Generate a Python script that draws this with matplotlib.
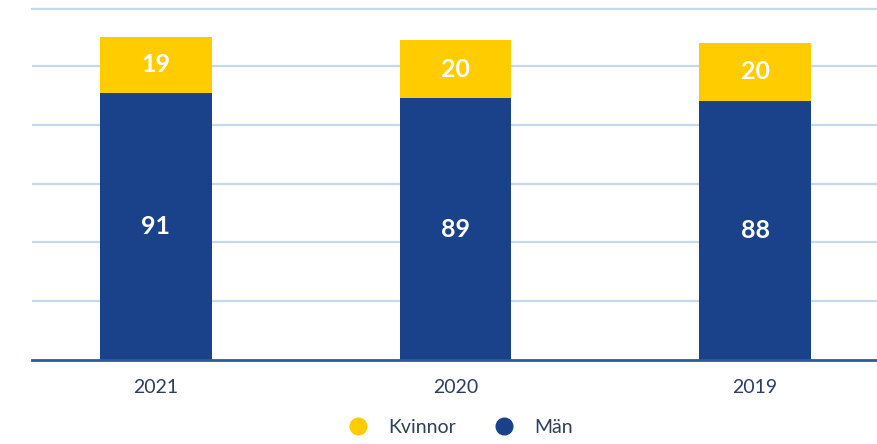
import matplotlib.pyplot as plt
from matplotlib.lines import Line2D

plt.rcParams['font.family'] = ['Lato', 'DejaVu Sans']

years = ['2021', '2020', '2019']
man = [91, 89, 88]
kvinnor = [19, 20, 20]

c_man = '#1a428a'
c_kv = '#ffcc00'
c_text = '#2d3e5c'

fig = plt.figure(figsize=(8.78, 4.44), dpi=100)
ax = fig.add_axes([0.0364, 0.19, 0.9636, 0.79])

x = range(len(years))
w = 0.373
b1 = ax.bar(x, man, width=w, color=c_man, zorder=3)
b2 = ax.bar(x, kvinnor, width=w, bottom=man, color=c_kv, zorder=3)

for bars in (b1, b2):
    for r in bars:
        ax.text(r.get_x() + r.get_width() / 2, r.get_y() + r.get_height() / 2,
                f'{int(r.get_height())}', ha='center', va='center',
                color='white', fontsize=18, fontweight='bold', zorder=4)

ax.set_xlim(-0.413, 2.41)
ax.set_ylim(0, 119.5)
ax.set_yticks(range(20, 120, 20))
ax.set_yticklabels([])
ax.tick_params(axis='y', length=0)
ax.grid(axis='y', color='#c6d9ea', linewidth=1.6, zorder=0)
ax.axhline(119.5, color='#c6d9ea', linewidth=1.6, zorder=0, clip_on=False)
ax.set_axisbelow(True)

ax.set_xticks(list(x))
ax.set_xticklabels(years, fontsize=14, color=c_text)
ax.tick_params(axis='x', length=0, pad=14)

for s in ['top', 'right', 'left']:
    ax.spines[s].set_visible(False)
ax.spines['bottom'].set_color('#2f5a9e')
ax.spines['bottom'].set_linewidth(2)
ax.spines['bottom'].set_zorder(5)

handles = [
    Line2D([], [], marker='o', linestyle='', markersize=12, color=c_kv),
    Line2D([], [], marker='o', linestyle='', markersize=12, color=c_man),
]
fig.legend(handles, ['Kvinnor', 'Män'], loc='center', ncol=2,
           bbox_to_anchor=(0.519, 0.038), frameon=False, fontsize=14,
           labelcolor=c_text, handletextpad=0.55, columnspacing=1.5)

fig.savefig('out.png', dpi=100)
